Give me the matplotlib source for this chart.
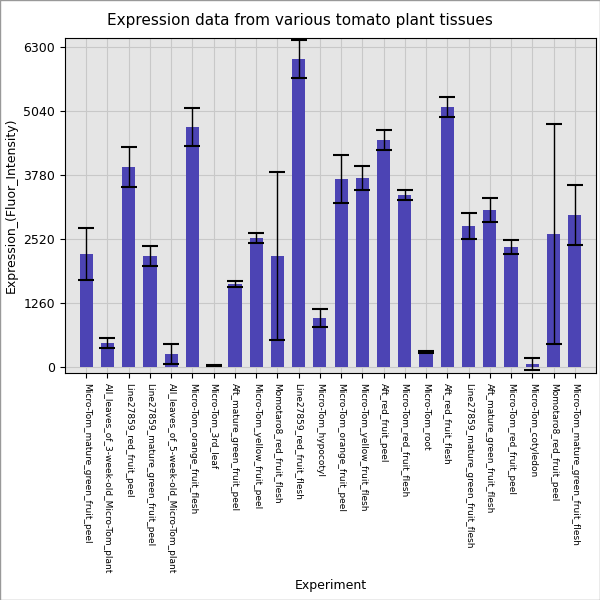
import matplotlib
matplotlib.use("Agg")
import matplotlib.pyplot as plt
import numpy as np

categories = ["Micro-Tom_mature_green_fruit_peel","All_leaves_of_3-week-old_Micro-Tom_plant",
"Line27859_red_fruit_peel","Line27859_mature_green_fruit_peel","All_leaves_of_5-week-old_Micro-Tom_plant",
"Micro-Tom_orange_fruit_flesh","Micro-Tom_3rd_leaf","Aft_mature_green_fruit_peel","Micro-Tom_yellow_fruit_peel",
"Momotaro8_red_fruit_flesh","Line27859_red_fruit_flesh","Micro-Tom_hypocotyl","Micro-Tom_orange_fruit_peel",
"Micro-Tom_yellow_fruit_flesh","Aft_red_fruit_peel","Micro-Tom_red_fruit_flesh","Micro-Tom_root",
"Aft_red_fruit_flesh","Line27859_mature_green_fruit_flesh","Aft_mature_green_fruit_flesh",
"Micro-Tom_red_fruit_peel","Micro-Tom_cotyledon","Momotaro8_red_fruit_peel","Micro-Tom_mature_green_fruit_flesh"]
values = [2225,473,3938,2185,256,4725,20,1634,2540,2185,6065,965,3702,3721,4470,3387,295,5119,2776,3091,2363,60,2619,2993]
errors = [510,100,390,200,200,375,10,50,100,1650,365,170,475,240,200,100,15,200,250,240,140,120,2170,600]

fig = plt.figure(figsize=(6,6), dpi=100)
ax = fig.add_axes([65/600, 1-373/600, 531/600, 335/600])
ax.set_facecolor("#e5e5e5")
x = np.arange(len(categories))
ax.bar(x, values, width=0.62, color="#4c44b4", zorder=2)
ax.errorbar(x, values, yerr=errors, fmt="none", ecolor="black", elinewidth=1, capsize=6, capthick=1.5, zorder=3)
ax.set_xticks(x)
ax.set_xticklabels(categories, rotation=-90, fontsize=6.5)
ax.set_yticks([0,1260,2520,3780,5040,6300])
ax.tick_params(axis="y", labelsize=9)
ax.set_ylim(-118, 6478)
ax.set_xlim(-1.0, len(categories))
ax.grid(True, color="#c8c8c8", linewidth=0.8, zorder=0)
ax.set_axisbelow(True)
ax.set_ylabel("Expression_(Fluor_Intensity)", fontsize=9)
fig.text(331/600, 1-585/600, "Experiment", ha="center", va="center", fontsize=9)
fig.text(0.5, 1-20/600, "Expression data from various tomato plant tissues", ha="center", va="center", fontsize=11)
fig.patches.append(plt.Rectangle((0,0),1,1, transform=fig.transFigure, fill=False, edgecolor="#999999", linewidth=1))
fig.savefig("out.png", dpi=100)
